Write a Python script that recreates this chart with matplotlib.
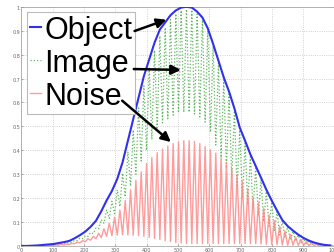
import numpy as np
from matplotlib import pyplot as plt

# sample grid: one oscillation every 17 units (peaks at x_k, troughs half way)
period = 17
x_peak = np.arange(59) * period
x_trough = x_peak + period / 2

# Object envelope at x_peak
obj = [0.000, 0.000, 0.001, 0.002, 0.004, 0.006, 0.008, 0.012, 0.016, 0.021,
       0.032, 0.045, 0.060, 0.080, 0.105, 0.145, 0.190, 0.230, 0.280, 0.350,
       0.440, 0.530, 0.620, 0.710, 0.780, 0.850, 0.905, 0.935, 0.965, 0.985,
       0.997, 1.000, 0.997, 0.980, 0.955, 0.910, 0.845, 0.775, 0.705, 0.645,
       0.575, 0.495, 0.440, 0.383, 0.334, 0.285, 0.235, 0.190, 0.148, 0.108,
       0.083, 0.064, 0.047, 0.033, 0.022, 0.014, 0.008, 0.004, 0.002]

# Image: peaks (at x_peak) and troughs (at x_trough)
img_hi = [0.000, 0.000, 0.001, 0.002, 0.003, 0.005, 0.006, 0.009, 0.012, 0.015,
          0.023, 0.032, 0.042, 0.056, 0.075, 0.110, 0.150, 0.187, 0.235, 0.304,
          0.394, 0.485, 0.577, 0.670, 0.744, 0.818, 0.878, 0.913, 0.947, 0.971,
          0.985, 0.990, 0.987, 0.970, 0.945, 0.900, 0.835, 0.765, 0.695, 0.635,
          0.565, 0.485, 0.430, 0.373, 0.325, 0.277, 0.228, 0.184, 0.143, 0.104,
          0.080, 0.061, 0.045, 0.031, 0.021, 0.013, 0.008, 0.004, 0.002]
img_lo = [0.000, 0.000, 0.001, 0.002, 0.003, 0.004, 0.006, 0.008, 0.010, 0.015,
          0.022, 0.030, 0.040, 0.052, 0.072, 0.095, 0.115, 0.135, 0.165, 0.205,
          0.250, 0.300, 0.355, 0.400, 0.445, 0.488, 0.515, 0.532, 0.547, 0.556,
          0.559, 0.559, 0.552, 0.540, 0.518, 0.476, 0.422, 0.370, 0.325, 0.285,
          0.240, 0.198, 0.174, 0.155, 0.130, 0.102, 0.082, 0.065, 0.046, 0.034,
          0.026, 0.020, 0.013, 0.009, 0.005, 0.003, 0.001, 0.001, 0.000]

# Noise: troughs (at x_peak) and peaks (at x_trough)
noise_lo = [0.000, 0.000, 0.000, 0.000, 0.001, 0.001, 0.002, 0.003, 0.004, 0.006,
            0.009, 0.013, 0.018, 0.024, 0.030, 0.035, 0.040, 0.043, 0.045, 0.046,
            0.046, 0.045, 0.043, 0.040, 0.036, 0.032, 0.027, 0.022, 0.018, 0.014,
            0.012, 0.010, 0.010, 0.010, 0.010, 0.010, 0.010, 0.010, 0.010, 0.010,
            0.010, 0.010, 0.010, 0.010, 0.009, 0.008, 0.007, 0.006, 0.005, 0.004,
            0.003, 0.003, 0.002, 0.002, 0.001, 0.001, 0.000, 0.000, 0.000]
noise_hi = [0.000, 0.000, 0.000, 0.001, 0.002, 0.003, 0.004, 0.006, 0.008, 0.011,
            0.016, 0.022, 0.030, 0.040, 0.053, 0.072, 0.095, 0.120, 0.150, 0.190,
            0.235, 0.275, 0.310, 0.345, 0.370, 0.390, 0.405, 0.418, 0.428, 0.435,
            0.440, 0.440, 0.437, 0.428, 0.415, 0.402, 0.388, 0.370, 0.348, 0.325,
            0.298, 0.270, 0.238, 0.205, 0.180, 0.158, 0.130, 0.105, 0.082, 0.062,
            0.048, 0.036, 0.027, 0.019, 0.013, 0.008, 0.005, 0.002, 0.001]

labels = ["Object", "Image", "Noise"]
xticks = list(range(0, 1001, 100))
yticks = [0, 0.1, 0.2, 0.3, 0.4, 0.5, 0.6, 0.7, 0.8, 0.9, 1]
ytick_labels = ["0", "0.1", "0.2", "0.3", "0.4", "0.5", "0.6", "0.7", "0.8", "0.9", "1"]


def zigzag(a, b):
    out = np.empty(len(a) * 2)
    out[0::2] = a
    out[1::2] = b
    return out


x_all = zigzag(x_peak, x_trough)

fig = plt.figure(figsize=(3.34, 2.53), dpi=100)
ax = fig.add_axes([0.064, 0.024, 0.938, 0.945])

ax.plot(x_peak, obj, color="#3030f0", lw=1.5, zorder=5, label=labels[0])
ax.plot(x_all, zigzag(img_hi, img_lo), color="#5cb85c", lw=0.9, ls=":", zorder=3, label=labels[1])
ax.plot(x_all, zigzag(noise_lo, noise_hi), color="#ff8a8a", lw=1.0, alpha=0.85, zorder=4, label=labels[2])

ax.set_xlim(0, 1000)
ax.set_ylim(0, 1)
ax.set_xticks(xticks)
ax.set_yticks(yticks)
ax.set_yticklabels(ytick_labels)
ax.tick_params(labelsize=3.5, colors="#666666", length=1.5, width=0.4, direction="in", pad=1)
ax.grid(True, color="#c4c4c4", ls=":", lw=0.6)
for s in ax.spines.values():
    s.set_color("#999999")
    s.set_linewidth(0.5)

leg = ax.legend(loc="upper left", bbox_to_anchor=(0.019, 0.98),
                prop={"family": "Liberation Sans", "size": 22},
                handlelength=0.35, handletextpad=0.1, labelspacing=0.1,
                borderpad=0.1, borderaxespad=0.0, fancybox=False, framealpha=1)
leg.get_frame().set_edgecolor("#bbbbbb")
leg.get_frame().set_linewidth(0.8)

arrow = dict(arrowstyle="-|>", lw=1.8, color="black", mutation_scale=14)
ax.annotate("", xy=(471, 0.95), xytext=(353, 0.895), arrowprops=arrow, zorder=10)
ax.annotate("", xy=(518, 0.736), xytext=(350, 0.74), arrowprops=arrow, zorder=10)
ax.annotate("", xy=(484, 0.427), xytext=(315, 0.615), arrowprops=arrow, zorder=10)

plt.savefig("out.png", dpi=100)
